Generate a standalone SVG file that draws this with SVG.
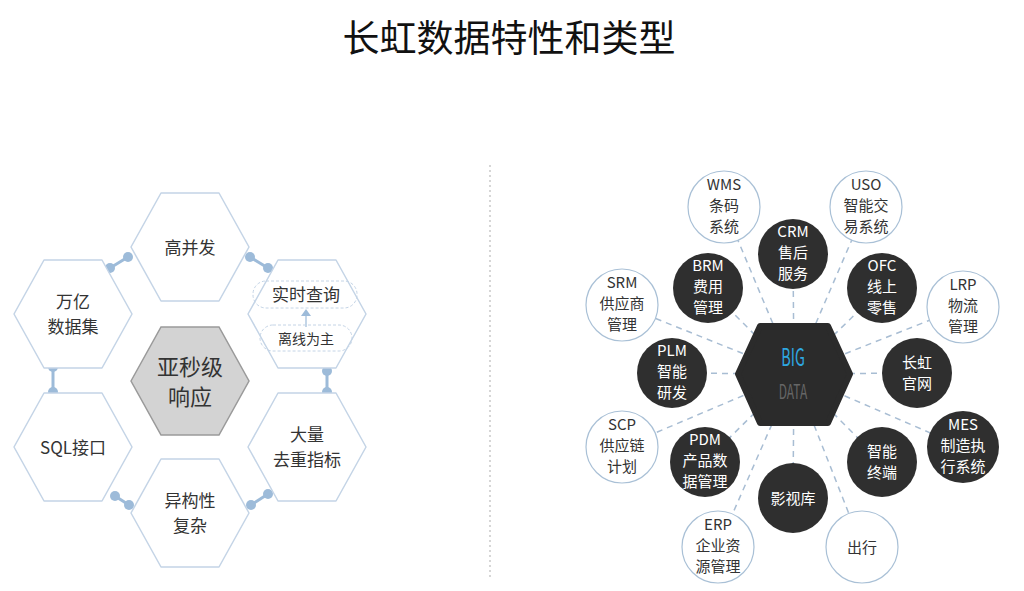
<svg xmlns="http://www.w3.org/2000/svg" width="1024" height="591" viewBox="0 0 1024 591">
<defs>
<style>
text{font-family:"Noto Sans CJK SC","Liberation Sans",sans-serif;text-anchor:middle}
.hex{fill:#fff;stroke:#c4d4e6;stroke-width:1.5;stroke-linejoin:round}
.ht{font-size:17px;fill:#333}
.dot{fill:#9dbbd9}
.bar{stroke:#9dbbd9;stroke-width:3}
.dash{stroke:#a8bdd3;stroke-width:1.5;stroke-dasharray:6 5}
.dk{fill:#2f2f2f}
.wt{fill:#fff;stroke:#a9c0d6;stroke-width:1.2}
.tw{font-size:15px;fill:#fff}
.tb{font-size:15px;fill:#333}
</style>
<path id="hx" d="M-59,0 L-29,-54 L29,-54 L59,0 L29,54 L-29,54 Z"/>
</defs>
<rect width="1024" height="591" fill="#fff"/>
<text x="509" y="52" font-size="37" fill="#111">长虹数据特性和类型</text>
<line x1="490" y1="165" x2="490" y2="580" stroke="#bbb" stroke-width="1.2" stroke-dasharray="2 3"/>

<g id="connectors">
<line class="bar" x1="128" y1="257" x2="110" y2="268"/><circle class="dot" cx="128" cy="257" r="5"/><circle class="dot" cx="110" cy="268" r="5"/>
<line class="bar" x1="250" y1="257" x2="268" y2="268"/><circle class="dot" cx="250" cy="257" r="5"/><circle class="dot" cx="268" cy="268" r="5"/>
<line class="bar" x1="53" y1="367" x2="53" y2="392"/><circle class="dot" cx="53" cy="367" r="5"/><circle class="dot" cx="53" cy="392" r="5"/>
<line class="bar" x1="327" y1="371" x2="327" y2="392"/><circle class="dot" cx="327" cy="371" r="5"/><circle class="dot" cx="327" cy="392" r="5"/>
<line class="bar" x1="115" y1="496" x2="129" y2="505"/><circle class="dot" cx="115" cy="496" r="5"/><circle class="dot" cx="129" cy="505" r="5"/>
<line class="bar" x1="251" y1="505" x2="268" y2="494"/><circle class="dot" cx="251" cy="505" r="5"/><circle class="dot" cx="268" cy="494" r="5"/>
<g class="dash">
<line x1="794" y1="374" x2="724" y2="207"/><line x1="794" y1="374" x2="866" y2="207"/>
<line x1="794" y1="374" x2="793" y2="254"/><line x1="794" y1="374" x2="708" y2="288"/>
<line x1="794" y1="374" x2="882" y2="288"/><line x1="794" y1="374" x2="622" y2="305"/>
<line x1="794" y1="374" x2="963" y2="307"/><line x1="794" y1="374" x2="672" y2="373"/>
<line x1="794" y1="374" x2="917" y2="373"/><line x1="794" y1="374" x2="622" y2="447"/>
<line x1="794" y1="374" x2="963" y2="447"/><line x1="794" y1="374" x2="705" y2="462"/>
<line x1="794" y1="374" x2="882" y2="462"/><line x1="794" y1="374" x2="793" y2="498"/>
<line x1="794" y1="374" x2="718" y2="547"/><line x1="794" y1="374" x2="862" y2="547"/>
</g>
</g>

<g id="n-gaobingfa"><use href="#hx" class="hex" x="190" y="247"/><text class="ht" x="190" y="254">高并发</text></g>
<g id="n-wanyi"><use href="#hx" class="hex" x="73" y="314"/><text class="ht" x="73" y="308">万亿</text><text class="ht" x="73" y="333">数据集</text></g>
<g id="n-sql"><use href="#hx" class="hex" x="73" y="447"/><text class="ht" x="73" y="454">SQL接口</text></g>
<g id="n-yigou"><use href="#hx" class="hex" x="190" y="513"/><text class="ht" x="190" y="507">异构性</text><text class="ht" x="190" y="532">复杂</text></g>
<g id="n-daliang"><use href="#hx" class="hex" x="307" y="447"/><text class="ht" x="307" y="441">大量</text><text class="ht" x="307" y="466">去重指标</text></g>
<g id="n-shishi"><use href="#hx" class="hex" x="307" y="314"/>
<rect x="253" y="281" width="104" height="27" rx="13" fill="none" stroke="#c4d4e6" stroke-dasharray="3 2"/>
<text class="ht" x="306" y="301">实时查询</text>
<line x1="306" y1="327" x2="306" y2="314" stroke="#9dbbd9" stroke-width="1.2"/><path d="M301,316 L306,309 L311,316 Z" fill="#9dbbd9"/>
<rect x="260" y="325" width="92" height="26" rx="13" fill="none" stroke="#c4d4e6" stroke-dasharray="3 2"/>
<text x="306" y="344" font-size="14" fill="#333">离线为主</text></g>
<g id="n-center"><use href="#hx" x="190" y="381" fill="#d3d3d3" stroke="#9a9a9a" stroke-width="1.5"/><text x="190" y="375" font-size="22" fill="#333">亚秒级</text><text x="190" y="405" font-size="22" fill="#333">响应</text></g>

<g id="n-bigdata"><path d="M738,374 L760,326 L828,326 L850,374 L828,423 L760,423 Z" fill="#2b2b2b" stroke="#2b2b2b" stroke-width="6" stroke-linejoin="round"/>
<text x="0" y="0" font-size="24" fill="#2ea7e0" transform="translate(793,366) scale(0.6,1)">BIG</text>
<text x="0" y="0" font-size="20" fill="#666" transform="translate(793,399) scale(0.6,1)">DATA</text></g>

<g id="n-wms"><circle class="wt" cx="724" cy="207" r="36"/><text class="tb" x="724" y="190">WMS</text><text class="tb" x="724" y="211">条码</text><text class="tb" x="724" y="232">系统</text></g>
<g id="n-uso"><circle class="wt" cx="866" cy="207" r="36"/><text class="tb" x="866" y="190">USO</text><text class="tb" x="866" y="211">智能交</text><text class="tb" x="866" y="232">易系统</text></g>
<g id="n-srm"><circle class="wt" cx="622" cy="305" r="36"/><text class="tb" x="622" y="288">SRM</text><text class="tb" x="622" y="309">供应商</text><text class="tb" x="622" y="330">管理</text></g>
<g id="n-lrp"><circle class="wt" cx="963" cy="307" r="36"/><text class="tb" x="963" y="290">LRP</text><text class="tb" x="963" y="311">物流</text><text class="tb" x="963" y="332">管理</text></g>
<g id="n-scp"><circle class="wt" cx="622" cy="447" r="36"/><text class="tb" x="622" y="430">SCP</text><text class="tb" x="622" y="451">供应链</text><text class="tb" x="622" y="472">计划</text></g>
<g id="n-erp"><circle class="wt" cx="718" cy="547" r="36"/><text class="tb" x="718" y="530">ERP</text><text class="tb" x="718" y="551">企业资</text><text class="tb" x="718" y="572">源管理</text></g>
<g id="n-chuxing"><circle class="wt" cx="862" cy="547" r="36"/><text class="tb" x="862" y="553">出行</text></g>

<g id="n-crm"><circle class="dk" cx="793" cy="254" r="35"/><text class="tw" x="793" y="237">CRM</text><text class="tw" x="793" y="258">售后</text><text class="tw" x="793" y="279">服务</text></g>
<g id="n-brm"><circle class="dk" cx="708" cy="288" r="35"/><text class="tw" x="708" y="271">BRM</text><text class="tw" x="708" y="292">费用</text><text class="tw" x="708" y="313">管理</text></g>
<g id="n-ofc"><circle class="dk" cx="882" cy="288" r="35"/><text class="tw" x="882" y="271">OFC</text><text class="tw" x="882" y="292">线上</text><text class="tw" x="882" y="313">零售</text></g>
<g id="n-plm"><circle class="dk" cx="672" cy="373" r="35"/><text class="tw" x="672" y="356">PLM</text><text class="tw" x="672" y="377">智能</text><text class="tw" x="672" y="398">研发</text></g>
<g id="n-guanwang"><circle class="dk" cx="917" cy="373" r="35"/><text class="tw" x="917" y="368">长虹</text><text class="tw" x="917" y="389">官网</text></g>
<g id="n-mes"><circle class="dk" cx="963" cy="447" r="36"/><text class="tw" x="963" y="430">MES</text><text class="tw" x="963" y="451">制造执</text><text class="tw" x="963" y="472">行系统</text></g>
<g id="n-pdm"><circle class="dk" cx="705" cy="462" r="35"/><text class="tw" x="705" y="445">PDM</text><text class="tw" x="705" y="466">产品数</text><text class="tw" x="705" y="487">据管理</text></g>
<g id="n-zhineng"><circle class="dk" cx="882" cy="462" r="35"/><text class="tw" x="882" y="457">智能</text><text class="tw" x="882" y="478">终端</text></g>
<g id="n-yingshi"><circle class="dk" cx="793" cy="498" r="35"/><text class="tw" x="793" y="504">影视库</text></g>
</svg>
